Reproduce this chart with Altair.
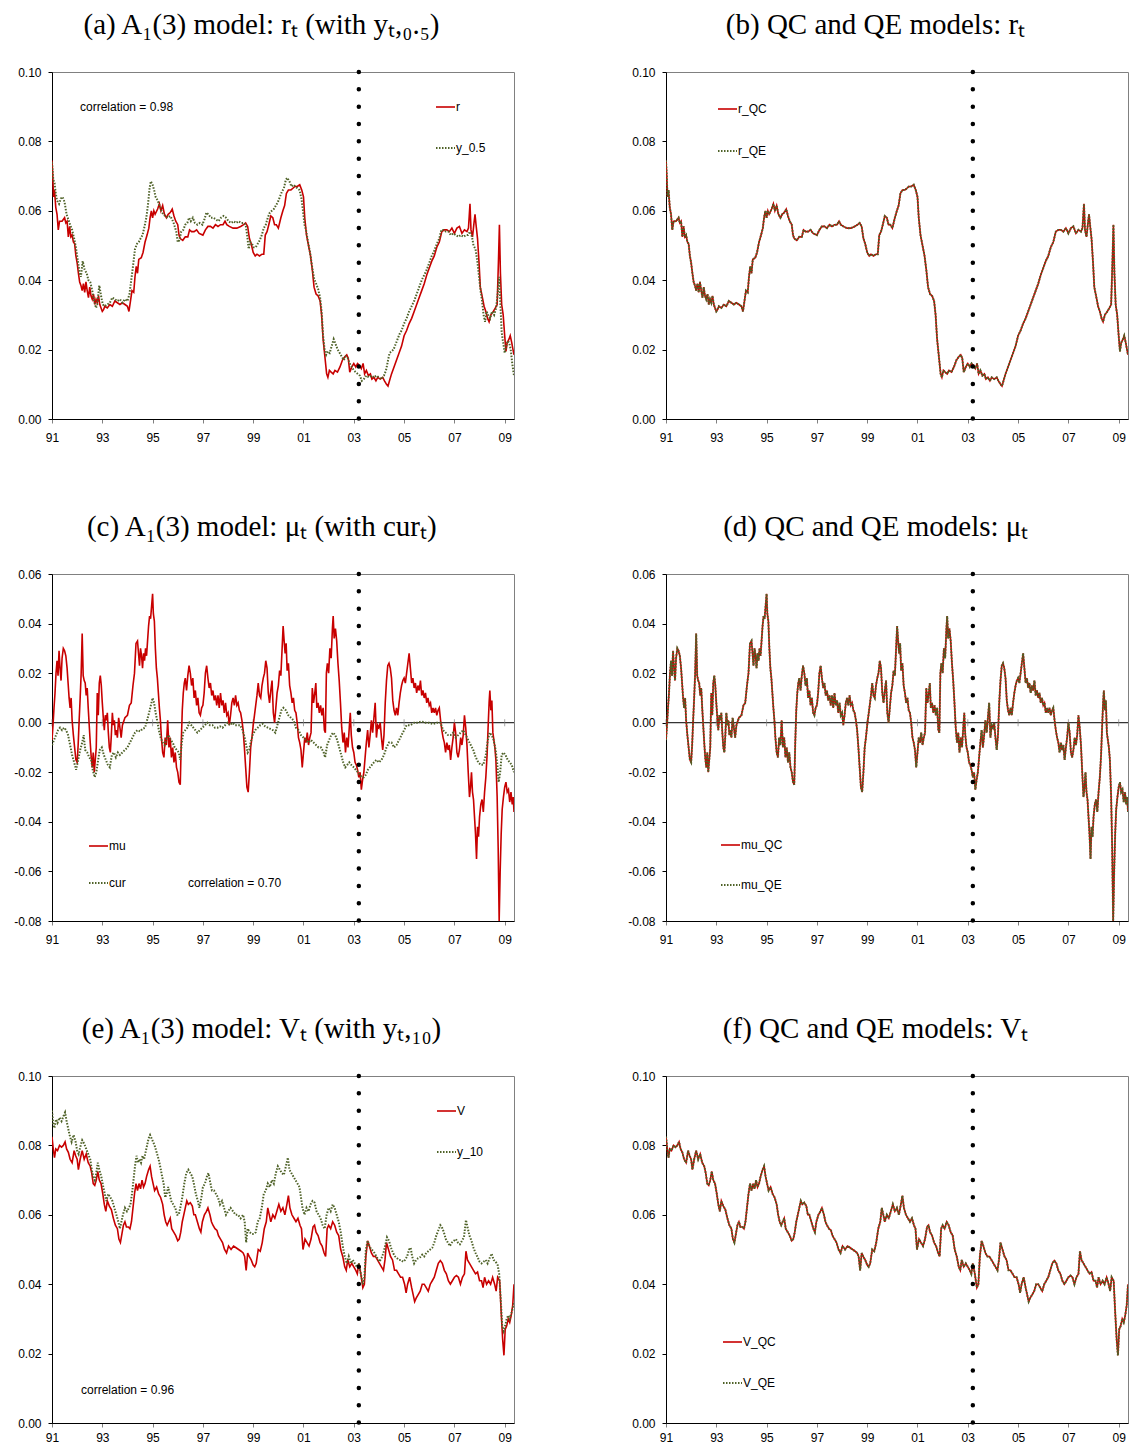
import altair as alt
import pandas as pd

# ---------------- data ----------------
LABEL_YEARS = [1991, 1993, 1995, 1997, 1999, 2001, 2003, 2005, 2007, 2009]
X_RANGE = [1991.0, 2009.37]
BREAK_YEAR = [2003.2]
RATE_TICKS = [0.0, 0.02, 0.04, 0.06, 0.08, 0.10]
MU_TICKS = [-0.08, -0.06, -0.04, -0.02, 0.0, 0.02, 0.04, 0.06]

R = [(1991.00,0.0745),(1991.03,0.0700),(1991.06,0.0640),(1991.10,0.0660),(1991.15,0.0610),(1991.20,0.0590),
     (1991.25,0.0545),(1991.30,0.0570),(1991.40,0.0570),(1991.50,0.0580),(1991.55,0.0565),(1991.60,0.0570),
     (1991.65,0.0525),(1991.70,0.0555),(1991.75,0.0525),(1991.80,0.0530),(1991.85,0.0510),(1991.90,0.0505),
     (1991.95,0.0470),(1992.00,0.0450),(1992.05,0.0420),(1992.10,0.0395),(1992.15,0.0385),(1992.20,0.0370),
     (1992.25,0.0390),(1992.30,0.0365),(1992.35,0.0395),(1992.40,0.0370),(1992.45,0.0350),(1992.50,0.0380),
     (1992.55,0.0355),(1992.60,0.0345),(1992.65,0.0360),(1992.70,0.0330),(1992.75,0.0345),(1992.80,0.0335),
     (1992.85,0.0355),(1992.90,0.0330),(1993.00,0.0310),(1993.05,0.0315),(1993.10,0.0325),(1993.20,0.0320),
     (1993.30,0.0330),(1993.40,0.0325),(1993.50,0.0340),(1993.60,0.0335),(1993.70,0.0330),(1993.80,0.0335),
     (1993.90,0.0330),(1994.00,0.0325),(1994.06,0.0310),(1994.12,0.0340),(1994.18,0.0370),(1994.25,0.0365),
     (1994.30,0.0410),(1994.35,0.0440),(1994.40,0.0420),(1994.45,0.0460),(1994.55,0.0465),(1994.62,0.0480),
     (1994.70,0.0510),(1994.78,0.0530),(1994.85,0.0550),(1994.90,0.0580),(1994.95,0.0600),(1995.00,0.0580),
     (1995.05,0.0600),(1995.10,0.0590),(1995.20,0.0605),(1995.27,0.0620),(1995.33,0.0600),(1995.40,0.0615),
     (1995.47,0.0590),(1995.55,0.0580),(1995.62,0.0590),(1995.70,0.0595),(1995.78,0.0605),(1995.85,0.0585),
     (1995.92,0.0570),(1996.00,0.0560),(1996.05,0.0530),(1996.10,0.0520),(1996.20,0.0515),(1996.30,0.0525),
     (1996.40,0.0525),(1996.47,0.0545),(1996.55,0.0540),(1996.65,0.0540),(1996.75,0.0545),(1996.85,0.0535),
     (1997.00,0.0530),(1997.10,0.0545),(1997.20,0.0555),(1997.30,0.0555),(1997.40,0.0550),(1997.50,0.0560),
     (1997.60,0.0555),(1997.70,0.0560),(1997.80,0.0560),(1997.88,0.0570),(1997.95,0.0560),(1998.05,0.0555),
     (1998.20,0.0550),(1998.35,0.0550),(1998.50,0.0555),(1998.62,0.0560),(1998.70,0.0565),(1998.78,0.0555),
     (1998.85,0.0520),(1998.92,0.0505),(1999.00,0.0480),(1999.08,0.0470),(1999.15,0.0475),(1999.25,0.0470),
     (1999.35,0.0475),(1999.42,0.0475),(1999.48,0.0530),(1999.55,0.0540),(1999.62,0.0560),(1999.70,0.0585),
     (1999.78,0.0580),(1999.85,0.0560),(1999.92,0.0560),(2000.00,0.0550),(2000.05,0.0565),(2000.10,0.0580),
     (2000.18,0.0600),(2000.25,0.0615),(2000.32,0.0650),(2000.40,0.0660),(2000.50,0.0660),(2000.58,0.0665),
     (2000.66,0.0670),(2000.75,0.0670),(2000.85,0.0675),(2000.93,0.0660),(2001.00,0.0640),(2001.05,0.0580),
     (2001.12,0.0530),(2001.20,0.0500),(2001.28,0.0470),(2001.35,0.0430),(2001.42,0.0380),(2001.50,0.0360),
     (2001.58,0.0355),(2001.66,0.0340),(2001.72,0.0300),(2001.78,0.0230),(2001.85,0.0180),(2001.92,0.0130),
     (2001.97,0.0120),(2002.03,0.0140),(2002.10,0.0135),(2002.18,0.0130),(2002.25,0.0140),(2002.35,0.0135),
     (2002.45,0.0150),(2002.55,0.0170),(2002.65,0.0180),(2002.72,0.0185),(2002.78,0.0175),(2002.84,0.0135),
     (2002.92,0.0150),(2003.00,0.0160),(2003.08,0.0150),(2003.15,0.0160),(2003.22,0.0155),(2003.30,0.0145),
     (2003.37,0.0160),(2003.43,0.0130),(2003.50,0.0140),(2003.58,0.0125),(2003.66,0.0130),(2003.72,0.0115),
     (2003.80,0.0120),(2003.88,0.0110),(2003.95,0.0120),(2004.05,0.0115),(2004.15,0.0120),(2004.22,0.0110),
     (2004.30,0.0100),(2004.36,0.0095),(2004.42,0.0110),(2004.50,0.0130),(2004.60,0.0150),(2004.70,0.0170),
     (2004.80,0.0190),(2004.90,0.0210),(2005.00,0.0240),(2005.10,0.0255),(2005.20,0.0275),(2005.30,0.0290),
     (2005.40,0.0310),(2005.50,0.0330),(2005.60,0.0350),(2005.70,0.0370),(2005.80,0.0390),(2005.90,0.0415),
     (2006.00,0.0435),(2006.10,0.0455),(2006.20,0.0470),(2006.30,0.0495),(2006.40,0.0510),(2006.50,0.0540),
     (2006.60,0.0545),(2006.70,0.0545),(2006.80,0.0540),(2006.90,0.0550),(2007.00,0.0535),(2007.10,0.0550),
     (2007.20,0.0555),(2007.30,0.0535),(2007.40,0.0545),(2007.50,0.0540),(2007.56,0.0550),(2007.62,0.0620),
     (2007.66,0.0545),(2007.72,0.0525),(2007.78,0.0565),(2007.82,0.0590),(2007.86,0.0560),(2007.92,0.0520),
     (2007.98,0.0450),(2008.03,0.0380),(2008.10,0.0355),(2008.18,0.0325),(2008.25,0.0310),(2008.32,0.0290),
     (2008.38,0.0280),(2008.45,0.0300),(2008.55,0.0310),(2008.63,0.0320),(2008.70,0.0330),(2008.75,0.0450),
     (2008.79,0.0560),(2008.83,0.0420),(2008.88,0.0330),(2008.94,0.0300),(2009.00,0.0240),(2009.05,0.0195),
     (2009.10,0.0220),(2009.17,0.0230),(2009.22,0.0240),(2009.28,0.0220),(2009.33,0.0200),(2009.37,0.0185)]

Y05 = [(1991.00,0.0740),(1991.05,0.0690),(1991.10,0.0680),(1991.15,0.0650),(1991.20,0.0630),(1991.28,0.0620),
       (1991.35,0.0635),(1991.42,0.0640),(1991.50,0.0625),(1991.58,0.0590),(1991.65,0.0575),(1991.72,0.0560),
       (1991.80,0.0545),(1991.88,0.0520),(1991.95,0.0495),(1992.02,0.0460),(1992.10,0.0420),(1992.15,0.0410),
       (1992.22,0.0455),(1992.30,0.0430),(1992.38,0.0420),(1992.45,0.0400),(1992.52,0.0395),(1992.60,0.0370),
       (1992.68,0.0340),(1992.75,0.0320),(1992.80,0.0330),(1992.88,0.0385),(1992.95,0.0355),(1993.02,0.0330),
       (1993.10,0.0325),(1993.20,0.0330),(1993.30,0.0335),(1993.40,0.0350),(1993.50,0.0345),(1993.60,0.0340),
       (1993.70,0.0345),(1993.80,0.0335),(1993.90,0.0345),(1994.00,0.0340),(1994.08,0.0360),(1994.15,0.0400),
       (1994.22,0.0440),(1994.30,0.0490),(1994.38,0.0505),(1994.45,0.0510),(1994.52,0.0520),(1994.60,0.0530),
       (1994.68,0.0555),(1994.75,0.0580),(1994.82,0.0620),(1994.88,0.0665),(1994.93,0.0685),(1995.00,0.0675),
       (1995.06,0.0660),(1995.12,0.0640),(1995.20,0.0630),(1995.28,0.0615),(1995.35,0.0600),(1995.42,0.0590),
       (1995.50,0.0585),(1995.60,0.0580),(1995.70,0.0585),(1995.78,0.0575),(1995.86,0.0560),(1995.94,0.0540),
       (1996.00,0.0510),(1996.06,0.0515),(1996.14,0.0540),(1996.22,0.0545),(1996.30,0.0560),(1996.38,0.0565),
       (1996.45,0.0580),(1996.52,0.0570),(1996.60,0.0580),(1996.68,0.0565),(1996.78,0.0560),(1996.88,0.0565),
       (1996.98,0.0560),(1997.06,0.0575),(1997.14,0.0595),(1997.22,0.0590),(1997.32,0.0580),(1997.42,0.0580),
       (1997.52,0.0575),(1997.62,0.0570),(1997.72,0.0580),(1997.82,0.0585),(1997.92,0.0580),(1998.02,0.0570),
       (1998.12,0.0565),(1998.22,0.0570),(1998.32,0.0565),(1998.42,0.0570),(1998.52,0.0565),(1998.62,0.0565),
       (1998.70,0.0560),(1998.76,0.0530),(1998.82,0.0490),(1998.88,0.0510),(1998.95,0.0505),(1999.02,0.0495),
       (1999.10,0.0495),(1999.18,0.0505),(1999.26,0.0515),(1999.34,0.0530),(1999.42,0.0550),(1999.50,0.0560),
       (1999.58,0.0580),(1999.66,0.0595),(1999.74,0.0600),(1999.82,0.0605),(1999.90,0.0615),(1999.98,0.0625),
       (2000.06,0.0640),(2000.14,0.0655),(2000.22,0.0665),(2000.30,0.0690),(2000.36,0.0695),(2000.44,0.0685),
       (2000.52,0.0670),(2000.60,0.0675),(2000.68,0.0670),(2000.76,0.0665),(2000.84,0.0660),(2000.92,0.0635),
       (2000.98,0.0600),(2001.04,0.0560),(2001.10,0.0545),(2001.18,0.0510),(2001.26,0.0480),(2001.34,0.0440),
       (2001.42,0.0405),(2001.50,0.0390),(2001.58,0.0375),(2001.66,0.0350),(2001.72,0.0310),(2001.78,0.0240),
       (2001.84,0.0200),(2001.90,0.0185),(2001.96,0.0195),(2002.04,0.0190),(2002.12,0.0210),(2002.20,0.0230),
       (2002.28,0.0215),(2002.36,0.0200),(2002.44,0.0190),(2002.52,0.0180),(2002.60,0.0170),(2002.68,0.0180),
       (2002.76,0.0175),(2002.84,0.0160),(2002.92,0.0150),(2003.00,0.0140),(2003.08,0.0135),(2003.16,0.0130),
       (2003.24,0.0125),(2003.32,0.0110),(2003.40,0.0115),(2003.50,0.0125),(2003.60,0.0120),(2003.70,0.0125),
       (2003.80,0.0120),(2003.90,0.0125),(2004.00,0.0120),(2004.10,0.0115),(2004.20,0.0125),(2004.28,0.0140),
       (2004.35,0.0165),(2004.42,0.0190),(2004.50,0.0195),(2004.58,0.0200),(2004.66,0.0215),(2004.74,0.0230),
       (2004.82,0.0245),(2004.90,0.0255),(2005.00,0.0275),(2005.10,0.0290),(2005.20,0.0310),(2005.30,0.0325),
       (2005.40,0.0340),(2005.50,0.0360),(2005.60,0.0380),(2005.70,0.0400),(2005.80,0.0415),(2005.90,0.0430),
       (2006.00,0.0450),(2006.10,0.0470),(2006.20,0.0485),(2006.30,0.0505),(2006.40,0.0520),(2006.48,0.0545),
       (2006.56,0.0545),(2006.66,0.0540),(2006.76,0.0540),(2006.86,0.0530),(2006.96,0.0535),(2007.06,0.0530),
       (2007.16,0.0525),(2007.26,0.0530),(2007.36,0.0525),(2007.46,0.0530),(2007.54,0.0530),(2007.62,0.0540),
       (2007.70,0.0525),(2007.76,0.0500),(2007.84,0.0490),(2007.92,0.0450),(2007.98,0.0410),(2008.04,0.0370),
       (2008.10,0.0340),(2008.16,0.0300),(2008.22,0.0280),(2008.28,0.0310),(2008.34,0.0300),(2008.42,0.0290),
       (2008.50,0.0310),(2008.58,0.0300),(2008.66,0.0320),(2008.72,0.0360),(2008.78,0.0410),(2008.83,0.0330),
       (2008.88,0.0250),(2008.94,0.0220),(2009.00,0.0190),(2009.06,0.0210),(2009.12,0.0225),(2009.18,0.0220),
       (2009.24,0.0200),(2009.30,0.0160),(2009.37,0.0125)]

MU = [(1991.00,-0.0070),(1991.04,-0.0010),(1991.08,0.0060),(1991.12,0.0120),(1991.16,0.0200),(1991.20,0.0250),
      (1991.24,0.0190),(1991.28,0.0290),(1991.32,0.0220),(1991.36,0.0170),(1991.40,0.0260),(1991.45,0.0300),
      (1991.50,0.0290),(1991.55,0.0270),(1991.60,0.0220),(1991.64,0.0160),(1991.68,0.0100),(1991.72,0.0060),
      (1991.76,0.0100),(1991.80,0.0010),(1991.85,-0.0050),(1991.90,-0.0100),(1991.95,-0.0150),(1992.00,-0.0160),
      (1992.04,-0.0090),(1992.08,0.0010),(1992.12,0.0100),(1992.16,0.0200),(1992.20,0.0360),(1992.24,0.0190),
      (1992.28,0.0170),(1992.32,0.0160),(1992.36,0.0110),(1992.40,0.0140),(1992.44,0.0060),(1992.48,-0.0010),
      (1992.52,-0.0080),(1992.56,-0.0140),(1992.60,-0.0180),(1992.64,-0.0120),(1992.68,-0.0200),(1992.72,-0.0150),
      (1992.76,-0.0100),(1992.80,0.0120),(1992.84,0.0030),(1992.88,0.0160),(1992.92,0.0190),(1992.96,0.0150),
      (1993.00,0.0080),(1993.04,0.0020),(1993.08,-0.0030),(1993.12,0.0030),(1993.16,0.0010),(1993.20,0.0040),
      (1993.24,-0.0040),(1993.28,-0.0100),(1993.32,-0.0120),(1993.36,-0.0050),(1993.40,0.0040),(1993.44,-0.0010),
      (1993.48,0.0010),(1993.52,-0.0050),(1993.56,-0.0030),(1993.60,-0.0060),(1993.65,0.0020),(1993.70,-0.0020),
      (1993.75,-0.0060),(1993.80,-0.0010),(1993.90,0.0020),(1994.00,0.0030),(1994.08,0.0070),(1994.15,0.0080),
      (1994.22,0.0150),(1994.28,0.0200),(1994.34,0.0320),(1994.40,0.0330),(1994.44,0.0280),(1994.48,0.0230),
      (1994.52,0.0300),(1994.56,0.0270),(1994.60,0.0220),(1994.64,0.0280),(1994.68,0.0250),(1994.72,0.0300),
      (1994.76,0.0270),(1994.80,0.0330),(1994.84,0.0390),(1994.88,0.0430),(1994.92,0.0420),(1994.96,0.0470),
      (1995.00,0.0520),(1995.03,0.0440),(1995.07,0.0410),(1995.11,0.0300),(1995.15,0.0220),(1995.19,0.0180),
      (1995.23,0.0120),(1995.27,0.0060),(1995.31,0.0010),(1995.35,-0.0060),(1995.40,-0.0120),(1995.45,-0.0140),
      (1995.50,-0.0060),(1995.55,-0.0090),(1995.60,0.0010),(1995.65,-0.0100),(1995.70,-0.0060),(1995.75,-0.0140),
      (1995.80,-0.0100),(1995.85,-0.0160),(1995.90,-0.0120),(1995.95,-0.0180),(1996.00,-0.0200),(1996.05,-0.0240),
      (1996.10,-0.0250),(1996.14,-0.0080),(1996.18,0.0050),(1996.22,0.0120),(1996.26,0.0160),(1996.30,0.0180),
      (1996.35,0.0130),(1996.40,0.0190),(1996.45,0.0230),(1996.50,0.0200),(1996.55,0.0150),(1996.60,0.0180),
      (1996.65,0.0100),(1996.70,0.0130),(1996.75,0.0070),(1996.80,0.0100),(1996.85,0.0040),(1996.90,0.0030),
      (1996.95,0.0060),(1997.00,0.0070),(1997.05,0.0120),(1997.10,0.0200),(1997.15,0.0230),(1997.20,0.0180),
      (1997.25,0.0140),(1997.30,0.0160),(1997.35,0.0110),(1997.40,0.0130),(1997.45,0.0090),(1997.50,0.0110),
      (1997.55,0.0070),(1997.60,0.0110),(1997.65,0.0060),(1997.70,0.0120),(1997.75,0.0070),(1997.80,0.0090),
      (1997.85,0.0040),(1997.90,0.0080),(1997.95,0.0030),(1998.00,0.0040),(1998.05,-0.0010),(1998.10,0.0030),
      (1998.15,0.0080),(1998.20,0.0100),(1998.25,0.0070),(1998.30,0.0110),(1998.35,0.0070),(1998.40,0.0080),
      (1998.45,0.0050),(1998.50,0.0040),(1998.55,0.0010),(1998.60,-0.0030),(1998.65,-0.0100),(1998.70,-0.0180),
      (1998.75,-0.0260),(1998.80,-0.0280),(1998.85,-0.0200),(1998.90,-0.0100),(1998.95,-0.0060),(1999.00,-0.0010),
      (1999.05,0.0030),(1999.10,0.0070),(1999.15,0.0110),(1999.20,0.0160),(1999.25,0.0110),(1999.30,0.0100),
      (1999.35,0.0150),(1999.40,0.0180),(1999.45,0.0200),(1999.50,0.0250),(1999.55,0.0220),(1999.60,0.0120),
      (1999.65,0.0080),(1999.70,0.0130),(1999.75,0.0170),(1999.80,0.0040),(1999.85,0.0000),(1999.90,0.0060),
      (1999.95,0.0120),(2000.00,0.0150),(2000.05,0.0210),(2000.10,0.0190),(2000.15,0.0300),(2000.19,0.0390),
      (2000.23,0.0330),(2000.27,0.0280),(2000.31,0.0320),(2000.35,0.0210),(2000.40,0.0240),(2000.45,0.0150),
      (2000.50,0.0120),(2000.55,0.0080),(2000.60,0.0100),(2000.65,0.0050),(2000.70,0.0040),(2000.75,0.0000),
      (2000.80,-0.0060),(2000.85,-0.0080),(2000.90,-0.0110),(2000.95,-0.0180),(2001.00,-0.0120),(2001.05,-0.0060),
      (2001.10,-0.0080),(2001.15,-0.0040),(2001.20,-0.0090),(2001.25,-0.0060),(2001.30,-0.0040),(2001.35,0.0140),
      (2001.40,0.0080),(2001.45,0.0120),(2001.49,0.0160),(2001.53,0.0060),(2001.58,0.0080),(2001.63,0.0040),
      (2001.68,0.0070),(2001.73,0.0030),(2001.78,0.0060),(2001.83,-0.0030),(2001.87,-0.0040),(2001.91,0.0200),
      (2001.95,0.0240),(2002.00,0.0200),(2002.05,0.0300),(2002.10,0.0260),(2002.15,0.0380),(2002.18,0.0430),
      (2002.22,0.0340),(2002.27,0.0380),(2002.32,0.0330),(2002.37,0.0240),(2002.42,0.0170),(2002.47,0.0080),
      (2002.52,-0.0020),(2002.57,-0.0080),(2002.62,-0.0040),(2002.67,-0.0120),(2002.72,-0.0060),(2002.77,-0.0100),
      (2002.82,-0.0020),(2002.86,0.0040),(2002.90,-0.0050),(2002.95,-0.0100),(2003.00,-0.0120),(2003.05,-0.0160),
      (2003.10,-0.0170),(2003.15,-0.0190),(2003.20,-0.0220),(2003.25,-0.0200),(2003.30,-0.0270),(2003.35,-0.0230),
      (2003.40,-0.0200),(2003.45,-0.0140),(2003.50,-0.0080),(2003.55,-0.0030),(2003.60,-0.0100),(2003.65,-0.0050),
      (2003.70,0.0010),(2003.75,-0.0040),(2003.80,0.0020),(2003.85,0.0080),(2003.90,-0.0060),(2003.95,-0.0010),
      (2004.00,-0.0020),(2004.05,0.0000),(2004.10,-0.0060),(2004.15,-0.0110),(2004.20,-0.0050),(2004.25,0.0080),
      (2004.30,0.0170),(2004.35,0.0230),(2004.40,0.0240),(2004.45,0.0220),(2004.50,0.0180),(2004.55,0.0090),
      (2004.60,0.0050),(2004.65,0.0030),(2004.70,0.0060),(2004.75,0.0030),(2004.80,0.0080),(2004.85,0.0120),
      (2004.90,0.0150),(2004.95,0.0170),(2005.00,0.0180),(2005.05,0.0160),(2005.10,0.0200),(2005.15,0.0240),
      (2005.20,0.0280),(2005.25,0.0220),(2005.30,0.0160),(2005.35,0.0180),(2005.40,0.0140),(2005.45,0.0160),
      (2005.50,0.0120),(2005.55,0.0150),(2005.60,0.0130),(2005.65,0.0170),(2005.70,0.0110),(2005.75,0.0130),
      (2005.80,0.0100),(2005.85,0.0120),(2005.90,0.0080),(2005.95,0.0100),(2006.00,0.0070),(2006.05,0.0080),
      (2006.10,0.0040),(2006.15,0.0060),(2006.20,0.0040),(2006.25,0.0060),(2006.30,0.0030),(2006.35,0.0050),
      (2006.40,0.0060),(2006.45,0.0010),(2006.50,-0.0030),(2006.55,-0.0060),(2006.60,-0.0080),(2006.65,-0.0120),
      (2006.70,-0.0080),(2006.75,-0.0110),(2006.80,-0.0090),(2006.85,-0.0150),(2006.90,-0.0100),(2006.95,-0.0060),
      (2007.00,0.0000),(2007.05,-0.0040),(2007.10,-0.0120),(2007.15,-0.0140),(2007.20,-0.0110),(2007.25,-0.0060),
      (2007.30,-0.0090),(2007.35,-0.0050),(2007.40,0.0030),(2007.45,-0.0020),(2007.50,-0.0090),(2007.55,-0.0200),
      (2007.60,-0.0300),(2007.64,-0.0260),(2007.68,-0.0200),(2007.72,-0.0280),(2007.76,-0.0310),(2007.80,-0.0380),
      (2007.84,-0.0450),(2007.88,-0.0550),(2007.92,-0.0420),(2007.96,-0.0460),(2008.00,-0.0380),(2008.05,-0.0330),
      (2008.10,-0.0310),(2008.15,-0.0360),(2008.20,-0.0280),(2008.25,-0.0220),(2008.30,-0.0130),(2008.34,-0.0020),
      (2008.38,0.0080),(2008.41,0.0130),(2008.45,0.0050),(2008.49,0.0090),(2008.53,-0.0040),(2008.57,-0.0070),
      (2008.61,-0.0100),(2008.65,-0.0150),(2008.70,-0.0300),(2008.74,-0.0500),(2008.78,-0.0800),(2008.82,-0.0600),
      (2008.86,-0.0450),(2008.90,-0.0350),(2008.95,-0.0300),(2009.00,-0.0260),(2009.05,-0.0240),(2009.10,-0.0280),
      (2009.15,-0.0270),(2009.20,-0.0320),(2009.25,-0.0280),(2009.30,-0.0330),(2009.34,-0.0300),(2009.37,-0.0360)]

CUR = [(1991.00,-0.0090),(1991.08,-0.0070),(1991.16,-0.0050),(1991.24,-0.0030),(1991.32,-0.0020),(1991.40,-0.0030),
       (1991.48,-0.0020),(1991.56,-0.0030),(1991.64,-0.0050),(1991.72,-0.0090),(1991.80,-0.0130),(1991.88,-0.0160),
       (1991.96,-0.0190),(1992.04,-0.0150),(1992.12,-0.0110),(1992.20,-0.0080),(1992.26,-0.0050),(1992.32,-0.0110),
       (1992.40,-0.0120),(1992.48,-0.0140),(1992.56,-0.0150),(1992.62,-0.0190),(1992.70,-0.0220),(1992.76,-0.0200),
       (1992.82,-0.0160),(1992.90,-0.0110),(1992.98,-0.0100),(1993.06,-0.0130),(1993.14,-0.0150),(1993.22,-0.0170),
       (1993.30,-0.0180),(1993.38,-0.0130),(1993.46,-0.0120),(1993.54,-0.0140),(1993.62,-0.0120),(1993.70,-0.0130),
       (1993.80,-0.0120),(1993.90,-0.0110),(1994.00,-0.0100),(1994.10,-0.0080),(1994.20,-0.0060),(1994.30,-0.0040),
       (1994.40,-0.0030),(1994.50,-0.0035),(1994.60,-0.0025),(1994.70,-0.0020),(1994.78,0.0010),(1994.86,0.0040),
       (1994.93,0.0070),(1995.00,0.0100),(1995.06,0.0080),(1995.12,0.0040),(1995.18,0.0010),(1995.25,-0.0030),
       (1995.32,-0.0060),(1995.40,-0.0080),(1995.48,-0.0090),(1995.56,-0.0060),(1995.64,-0.0050),(1995.72,-0.0070),
       (1995.80,-0.0080),(1995.88,-0.0100),(1995.96,-0.0110),(1996.04,-0.0120),(1996.10,-0.0150),(1996.16,-0.0080),
       (1996.22,-0.0040),(1996.30,-0.0030),(1996.38,-0.0020),(1996.46,0.0000),(1996.54,-0.0010),(1996.62,-0.0020),
       (1996.70,-0.0030),(1996.78,-0.0040),(1996.88,-0.0030),(1996.98,-0.0020),(1997.08,-0.0010),(1997.18,0.0000),
       (1997.28,-0.0010),(1997.38,-0.0010),(1997.48,-0.0020),(1997.58,-0.0020),(1997.68,-0.0015),(1997.78,-0.0020),
       (1997.88,-0.0010),(1997.98,0.0000),(1998.08,-0.0010),(1998.18,0.0000),(1998.28,-0.0010),(1998.38,-0.0010),
       (1998.48,-0.0010),(1998.58,-0.0030),(1998.66,-0.0060),(1998.72,-0.0090),(1998.78,-0.0120),(1998.84,-0.0110),
       (1998.90,-0.0080),(1998.98,-0.0050),(1999.08,-0.0030),(1999.18,-0.0020),(1999.28,-0.0010),(1999.38,-0.0005),
       (1999.48,-0.0015),(1999.58,-0.0020),(1999.68,-0.0025),(1999.78,-0.0030),(1999.88,-0.0040),(1999.96,-0.0010),
       (2000.04,0.0020),(2000.12,0.0050),(2000.20,0.0060),(2000.30,0.0050),(2000.40,0.0030),(2000.50,0.0020),
       (2000.60,0.0010),(2000.70,-0.0020),(2000.80,-0.0030),(2000.90,-0.0050),(2001.00,-0.0060),(2001.10,-0.0070),
       (2001.20,-0.0080),(2001.30,-0.0070),(2001.40,-0.0080),(2001.50,-0.0090),(2001.60,-0.0100),(2001.70,-0.0100),
       (2001.80,-0.0120),(2001.86,-0.0140),(2001.94,-0.0090),(2002.02,-0.0070),(2002.10,-0.0050),(2002.18,-0.0040),
       (2002.26,-0.0050),(2002.34,-0.0070),(2002.42,-0.0100),(2002.50,-0.0130),(2002.58,-0.0160),(2002.66,-0.0180),
       (2002.74,-0.0170),(2002.82,-0.0160),(2002.90,-0.0170),(2003.00,-0.0180),(2003.08,-0.0190),(2003.16,-0.0200),
       (2003.24,-0.0210),(2003.32,-0.0220),(2003.40,-0.0220),(2003.48,-0.0210),(2003.56,-0.0190),(2003.64,-0.0180),
       (2003.72,-0.0170),(2003.80,-0.0160),(2003.90,-0.0150),(2004.00,-0.0160),(2004.10,-0.0150),(2004.20,-0.0130),
       (2004.30,-0.0100),(2004.40,-0.0080),(2004.50,-0.0080),(2004.60,-0.0100),(2004.70,-0.0090),(2004.80,-0.0070),
       (2004.90,-0.0050),(2005.00,-0.0030),(2005.10,-0.0010),(2005.25,-0.0010),(2005.40,0.0000),(2005.55,0.0000),
       (2005.70,0.0005),(2005.85,0.0000),(2006.00,0.0000),(2006.15,-0.0005),(2006.30,0.0000),(2006.45,0.0000),
       (2006.55,-0.0030),(2006.65,-0.0040),(2006.75,-0.0050),(2006.85,-0.0050),(2006.95,-0.0040),(2007.05,-0.0060),
       (2007.15,-0.0050),(2007.25,-0.0040),(2007.35,-0.0030),(2007.45,-0.0050),(2007.55,-0.0070),(2007.65,-0.0090),
       (2007.75,-0.0110),(2007.85,-0.0140),(2007.95,-0.0160),(2008.05,-0.0170),(2008.15,-0.0170),(2008.25,-0.0130),
       (2008.33,-0.0070),(2008.40,-0.0040),(2008.48,-0.0050),(2008.56,-0.0070),(2008.64,-0.0110),(2008.70,-0.0160),
       (2008.76,-0.0240),(2008.82,-0.0200),(2008.88,-0.0130),(2008.95,-0.0120),(2009.03,-0.0130),(2009.12,-0.0150),
       (2009.20,-0.0160),(2009.28,-0.0170),(2009.37,-0.0200)]

V = [(1991.00,0.0825),(1991.05,0.0790),(1991.10,0.0765),(1991.15,0.0790),(1991.22,0.0785),(1991.30,0.0800),
     (1991.38,0.0795),(1991.45,0.0800),(1991.52,0.0810),(1991.58,0.0790),(1991.65,0.0780),(1991.72,0.0760),
     (1991.80,0.0750),(1991.88,0.0785),(1991.94,0.0770),(1992.00,0.0760),(1992.05,0.0730),(1992.12,0.0760),
     (1992.20,0.0785),(1992.28,0.0760),(1992.36,0.0775),(1992.44,0.0750),(1992.52,0.0740),(1992.58,0.0720),
     (1992.64,0.0690),(1992.70,0.0685),(1992.76,0.0700),(1992.82,0.0725),(1992.88,0.0700),(1992.95,0.0690),
     (1993.02,0.0660),(1993.08,0.0630),(1993.14,0.0610),(1993.20,0.0640),(1993.28,0.0625),(1993.36,0.0615),
     (1993.44,0.0590),(1993.52,0.0570),(1993.60,0.0560),(1993.66,0.0530),(1993.72,0.0520),(1993.78,0.0545),
     (1993.84,0.0570),(1993.90,0.0580),(1993.96,0.0565),(1994.04,0.0565),(1994.10,0.0560),(1994.16,0.0580),
     (1994.22,0.0620),(1994.28,0.0660),(1994.34,0.0690),(1994.40,0.0670),(1994.46,0.0690),(1994.52,0.0675),
     (1994.58,0.0700),(1994.64,0.0680),(1994.70,0.0690),(1994.76,0.0710),(1994.84,0.0730),(1994.90,0.0740),
     (1994.96,0.0710),(1995.02,0.0690),(1995.08,0.0670),(1995.16,0.0680),(1995.24,0.0660),(1995.32,0.0650),
     (1995.40,0.0630),(1995.46,0.0600),(1995.52,0.0580),(1995.58,0.0570),(1995.64,0.0580),(1995.70,0.0590),
     (1995.76,0.0560),(1995.84,0.0550),(1995.92,0.0540),(1996.00,0.0525),(1996.06,0.0530),(1996.12,0.0550),
     (1996.18,0.0580),(1996.24,0.0600),(1996.30,0.0620),(1996.36,0.0640),(1996.42,0.0630),(1996.50,0.0635),
     (1996.58,0.0625),(1996.64,0.0600),(1996.70,0.0600),(1996.78,0.0580),(1996.86,0.0560),(1996.92,0.0550),
     (1996.98,0.0580),(1997.06,0.0600),(1997.14,0.0610),(1997.20,0.0620),(1997.28,0.0600),(1997.34,0.0580),
     (1997.40,0.0570),(1997.48,0.0560),(1997.56,0.0555),(1997.62,0.0540),(1997.70,0.0530),(1997.78,0.0520),
     (1997.86,0.0500),(1997.94,0.0490),(1998.02,0.0510),(1998.12,0.0500),(1998.22,0.0510),(1998.32,0.0505),
     (1998.42,0.0500),(1998.52,0.0495),(1998.60,0.0490),(1998.66,0.0480),(1998.72,0.0440),(1998.78,0.0490),
     (1998.84,0.0480),(1998.92,0.0470),(1999.00,0.0455),(1999.06,0.0450),(1999.12,0.0460),(1999.20,0.0500),
     (1999.28,0.0495),(1999.36,0.0520),(1999.44,0.0560),(1999.52,0.0580),(1999.58,0.0620),(1999.64,0.0600),
     (1999.70,0.0580),(1999.78,0.0600),(1999.86,0.0590),(1999.94,0.0610),(2000.02,0.0630),(2000.10,0.0610),
     (2000.18,0.0620),(2000.26,0.0600),(2000.34,0.0630),(2000.40,0.0655),(2000.46,0.0620),(2000.54,0.0600),
     (2000.62,0.0590),(2000.70,0.0580),(2000.78,0.0590),(2000.86,0.0570),(2000.92,0.0560),(2000.98,0.0500),
     (2001.06,0.0530),(2001.14,0.0520),(2001.22,0.0510),(2001.30,0.0530),(2001.38,0.0565),(2001.44,0.0570),
     (2001.50,0.0550),(2001.58,0.0540),(2001.66,0.0520),(2001.74,0.0510),(2001.82,0.0490),(2001.88,0.0480),
     (2001.94,0.0560),(2002.00,0.0570),(2002.08,0.0560),(2002.16,0.0580),(2002.24,0.0570),(2002.32,0.0550),
     (2002.40,0.0540),(2002.48,0.0500),(2002.56,0.0480),(2002.64,0.0450),(2002.70,0.0440),(2002.76,0.0470),
     (2002.84,0.0450),(2002.92,0.0460),(2003.00,0.0450),(2003.08,0.0440),(2003.14,0.0430),(2003.20,0.0460),
     (2003.28,0.0430),(2003.36,0.0390),(2003.42,0.0400),(2003.48,0.0480),(2003.55,0.0525),(2003.62,0.0510),
     (2003.70,0.0490),(2003.78,0.0480),(2003.86,0.0480),(2003.94,0.0470),(2004.02,0.0460),(2004.10,0.0450),
     (2004.18,0.0440),(2004.24,0.0470),(2004.30,0.0520),(2004.38,0.0500),(2004.46,0.0480),(2004.54,0.0470),
     (2004.62,0.0440),(2004.70,0.0440),(2004.78,0.0430),(2004.86,0.0420),(2004.94,0.0420),(2005.02,0.0400),
     (2005.08,0.0375),(2005.14,0.0400),(2005.22,0.0420),(2005.30,0.0390),(2005.36,0.0370),(2005.42,0.0350),
     (2005.48,0.0360),(2005.56,0.0370),(2005.64,0.0380),(2005.72,0.0400),(2005.80,0.0400),(2005.88,0.0390),
     (2005.96,0.0380),(2006.04,0.0400),(2006.12,0.0410),(2006.20,0.0420),(2006.28,0.0440),(2006.36,0.0460),
     (2006.44,0.0468),(2006.52,0.0460),(2006.60,0.0440),(2006.68,0.0430),(2006.76,0.0410),(2006.84,0.0400),
     (2006.92,0.0410),(2007.00,0.0420),(2007.08,0.0425),(2007.16,0.0420),(2007.24,0.0400),(2007.32,0.0420),
     (2007.40,0.0430),(2007.46,0.0495),(2007.52,0.0470),(2007.60,0.0460),(2007.68,0.0450),(2007.76,0.0440),
     (2007.84,0.0430),(2007.92,0.0435),(2008.00,0.0410),(2008.08,0.0410),(2008.14,0.0390),(2008.20,0.0420),
     (2008.28,0.0400),(2008.36,0.0410),(2008.44,0.0400),(2008.52,0.0420),(2008.60,0.0400),(2008.66,0.0380),
     (2008.72,0.0420),(2008.80,0.0410),(2008.86,0.0320),(2008.92,0.0240),(2008.97,0.0195),(2009.02,0.0270),
     (2009.08,0.0280),(2009.14,0.0300),(2009.20,0.0290),(2009.26,0.0310),(2009.32,0.0340),(2009.37,0.0400)]

Y10 = [(1991.00,0.0900),(1991.05,0.0860),(1991.10,0.0850),(1991.16,0.0875),(1991.22,0.0865),(1991.30,0.0880),
       (1991.38,0.0870),(1991.46,0.0885),(1991.52,0.0895),(1991.58,0.0870),(1991.64,0.0850),(1991.70,0.0830),
       (1991.78,0.0810),(1991.86,0.0830),(1991.94,0.0810),(1992.00,0.0785),(1992.06,0.0775),(1992.14,0.0800),
       (1992.20,0.0815),(1992.28,0.0805),(1992.36,0.0790),(1992.44,0.0775),(1992.52,0.0760),(1992.58,0.0730),
       (1992.64,0.0710),(1992.70,0.0700),(1992.76,0.0720),(1992.82,0.0750),(1992.88,0.0730),(1992.96,0.0710),
       (1993.04,0.0680),(1993.10,0.0660),(1993.16,0.0640),(1993.24,0.0660),(1993.32,0.0650),(1993.40,0.0640),
       (1993.48,0.0620),(1993.56,0.0600),(1993.64,0.0580),(1993.70,0.0560),(1993.76,0.0580),(1993.82,0.0600),
       (1993.90,0.0620),(1993.98,0.0610),(1994.06,0.0620),(1994.12,0.0630),(1994.18,0.0660),(1994.24,0.0700),
       (1994.30,0.0740),(1994.36,0.0770),(1994.42,0.0750),(1994.48,0.0760),(1994.54,0.0750),(1994.60,0.0770),
       (1994.66,0.0760),(1994.72,0.0780),(1994.78,0.0800),(1994.84,0.0820),(1994.90,0.0830),(1994.96,0.0820),
       (1995.02,0.0810),(1995.08,0.0800),(1995.16,0.0780),(1995.24,0.0760),(1995.30,0.0740),(1995.38,0.0710),
       (1995.44,0.0690),(1995.50,0.0650),(1995.56,0.0660),(1995.62,0.0680),(1995.68,0.0660),(1995.74,0.0640),
       (1995.82,0.0630),(1995.90,0.0620),(1995.98,0.0600),(1996.04,0.0600),(1996.10,0.0620),(1996.18,0.0650),
       (1996.26,0.0690),(1996.34,0.0720),(1996.42,0.0730),(1996.50,0.0720),(1996.58,0.0710),(1996.64,0.0690),
       (1996.72,0.0660),(1996.80,0.0640),(1996.86,0.0620),(1996.94,0.0650),(1997.00,0.0680),(1997.08,0.0690),
       (1997.16,0.0710),(1997.22,0.0720),(1997.30,0.0690),(1997.36,0.0670),(1997.44,0.0670),(1997.52,0.0660),
       (1997.60,0.0650),(1997.68,0.0630),(1997.76,0.0640),(1997.84,0.0620),(1997.92,0.0600),(1998.00,0.0610),
       (1998.10,0.0620),(1998.20,0.0610),(1998.30,0.0600),(1998.40,0.0600),(1998.50,0.0590),(1998.60,0.0600),
       (1998.66,0.0580),(1998.72,0.0520),(1998.78,0.0560),(1998.86,0.0550),(1998.94,0.0545),(1999.02,0.0545),
       (1999.10,0.0550),(1999.18,0.0580),(1999.26,0.0590),(1999.34,0.0620),(1999.42,0.0660),(1999.50,0.0670),
       (1999.58,0.0690),(1999.66,0.0680),(1999.74,0.0700),(1999.82,0.0690),(1999.90,0.0720),(1999.98,0.0740),
       (2000.06,0.0730),(2000.14,0.0720),(2000.22,0.0715),(2000.30,0.0740),(2000.38,0.0765),(2000.44,0.0730),
       (2000.52,0.0720),(2000.60,0.0710),(2000.68,0.0700),(2000.76,0.0690),(2000.84,0.0680),(2000.90,0.0650),
       (2000.96,0.0620),(2001.04,0.0600),(2001.12,0.0620),(2001.20,0.0610),(2001.28,0.0630),(2001.36,0.0640),
       (2001.44,0.0635),(2001.52,0.0610),(2001.60,0.0600),(2001.68,0.0590),(2001.76,0.0570),(2001.84,0.0560),
       (2001.92,0.0600),(2002.00,0.0620),(2002.08,0.0610),(2002.16,0.0630),(2002.24,0.0620),(2002.32,0.0600),
       (2002.40,0.0580),(2002.48,0.0550),(2002.56,0.0510),(2002.64,0.0480),(2002.72,0.0460),(2002.80,0.0480),
       (2002.88,0.0460),(2002.96,0.0470),(2003.04,0.0460),(2003.12,0.0450),(2003.20,0.0460),(2003.28,0.0430),
       (2003.36,0.0400),(2003.42,0.0420),(2003.48,0.0500),(2003.55,0.0525),(2003.62,0.0510),(2003.70,0.0500),
       (2003.78,0.0495),(2003.86,0.0485),(2003.94,0.0475),(2004.02,0.0465),(2004.10,0.0475),(2004.18,0.0490),
       (2004.26,0.0515),(2004.32,0.0535),(2004.40,0.0525),(2004.48,0.0505),(2004.56,0.0490),(2004.64,0.0480),
       (2004.72,0.0475),(2004.80,0.0470),(2004.88,0.0470),(2004.96,0.0465),(2005.04,0.0470),(2005.12,0.0480),
       (2005.20,0.0500),(2005.26,0.0505),(2005.32,0.0480),(2005.40,0.0460),(2005.48,0.0470),(2005.56,0.0475),
       (2005.64,0.0478),(2005.72,0.0485),(2005.80,0.0480),(2005.88,0.0490),(2005.96,0.0495),(2006.04,0.0500),
       (2006.12,0.0505),(2006.20,0.0520),(2006.28,0.0540),(2006.36,0.0555),(2006.44,0.0570),(2006.50,0.0565),
       (2006.58,0.0550),(2006.66,0.0530),(2006.74,0.0520),(2006.82,0.0510),(2006.90,0.0520),(2006.98,0.0525),
       (2007.06,0.0530),(2007.14,0.0520),(2007.22,0.0515),(2007.30,0.0525),(2007.38,0.0535),(2007.46,0.0585),
       (2007.52,0.0565),(2007.60,0.0540),(2007.68,0.0525),(2007.76,0.0505),(2007.84,0.0490),(2007.92,0.0478),
       (2008.00,0.0465),(2008.08,0.0460),(2008.16,0.0465),(2008.24,0.0470),(2008.32,0.0460),(2008.40,0.0475),
       (2008.48,0.0488),(2008.56,0.0470),(2008.64,0.0465),(2008.72,0.0455),(2008.78,0.0430),(2008.84,0.0360),
       (2008.90,0.0280),(2008.96,0.0265),(2009.02,0.0280),(2009.08,0.0300),(2009.14,0.0310),(2009.20,0.0300),
       (2009.28,0.0320),(2009.37,0.0345)]

# QC / QE model series lie on top of each other in the picture
R_QC, R_QE = R, R
MU_QC, MU_QE = MU, MU
V_QC, V_QE = V, V

# ---------------- styling ----------------
W, H = 462, 347
RED = "#c80000"
GREEN = "#4f6228"
SANS = "Liberation Sans"
SERIF = "Liberation Serif"
MINUS = "\u2212"

X_SCALE = alt.Scale(domain=X_RANGE, nice=False, zero=False)


def x_axis(pad):
    return alt.Axis(values=LABEL_YEARS, labelExpr="substring(format(datum.value, 'd'), 2, 4)",
                    title=None, grid=False, domainColor="black", tickColor="#808080", tickSize=4,
                    labelPadding=pad, labelFont=SANS, labelFontSize=12, labelColor="black",
                    labelOverlap=False, labelFlush=False)


def y_axis(ticks):
    return alt.Axis(values=ticks, labelExpr="replace(format(datum.value, '.2f'), '" + MINUS + "', '-')",
                    title=None, grid=False, domainColor="black", tickColor="black", tickSize=4,
                    labelPadding=7, labelFont=SANS, labelFontSize=12, labelColor="black",
                    labelOverlap=False, labelFlush=False, minExtent=43, maxExtent=43)


def line_style(kind):
    if kind == "solid":
        return dict(color=RED, strokeWidth=1.6)
    return dict(color=GREEN, strokeWidth=2, strokeDash=[1.5, 1.5])


def legend_entry(label, kind, lx, ly):
    d = alt.Data(values=[{"k": 0}])
    seg = alt.Chart(d).mark_rule(**line_style(kind)).encode(
        x=alt.value(lx), x2=alt.value(lx + 19), y=alt.value(ly))
    txt = alt.Chart(d).mark_text(text=label, align="left", baseline="middle", font=SANS,
                                 fontSize=12, color="black").encode(x=alt.value(lx + 20), y=alt.value(ly))
    return [seg, txt]


def note(label, lx, ly):
    d = alt.Data(values=[{"k": 0}])
    return alt.Chart(d).mark_text(text=label, align="left", baseline="middle", font=SANS,
                                  fontSize=12, color="black").encode(x=alt.value(lx), y=alt.value(ly))


def panel(title, series, ydom, yticks, legend, corr=None, zero_line=False, label_pad=9):
    ysc = alt.Scale(domain=ydom, nice=False, zero=False)
    yax = y_axis(yticks)
    X = alt.X("t:Q", scale=X_SCALE, axis=x_axis(label_pad))
    Y = alt.Y("v:Q", scale=ysc, axis=yax)
    layers = []
    if zero_line:
        layers.append(alt.Chart(pd.DataFrame({"v": [0.0]})).mark_rule(color="black", strokeWidth=1)
                      .encode(y=Y))
        layers.append(alt.Chart(pd.DataFrame({"t": LABEL_YEARS, "v": [0.0] * len(LABEL_YEARS)}))
                      .mark_tick(orient="vertical", size=7, thickness=1, color="#808080")
                      .encode(x=X, y=Y))
    for pairs, kind in series:
        df = pd.DataFrame(pairs, columns=["t", "v"])
        layers.append(alt.Chart(df).mark_line(clip=True, **line_style(kind)).encode(x=X, y=Y))
    layers.append(alt.Chart(pd.DataFrame({"t": BREAK_YEAR}))
                  .mark_rule(color="black", strokeWidth=4.5, strokeDash=[0.01, 17.32], strokeCap="round")
                  .encode(x=X,
                          y=alt.Y(datum=ydom[1], type="quantitative", scale=ysc, axis=yax),
                          y2=alt.Y2(datum=ydom[0])))
    for label, kind, lx, ly in legend:
        layers += legend_entry(label, kind, lx, ly)
    if corr:
        layers.append(note(*corr))
    return alt.layer(*layers).properties(
        width=W, height=H,
        title=alt.TitleParams(text=title, font=SERIF, fontSize=29, fontWeight="normal",
                              anchor="middle", frame="bounds", offset=26, color="black"))


pa = panel("(a) A\u2081(3) model: r\u209c (with y\u209c,\u2080.\u2085)",
           [(R, "solid"), (Y05, "dot")], [0.0, 0.10], RATE_TICKS,
           [("r", "solid", 384, 35), ("y_0.5", "dot", 384, 76)], corr=("correlation = 0.98", 28, 35))
pb = panel("(b) QC and QE models: r\u209c",
           [(R_QC, "solid"), (R_QE, "dot")], [0.0, 0.10], RATE_TICKS,
           [("r_QC", "solid", 52, 37), ("r_QE", "dot", 52, 79)])
pc = panel("(c) A\u2081(3) model: \u03bc\u209c (with cur\u209c)",
           [(MU, "solid"), (CUR, "dot")], [-0.08, 0.06], MU_TICKS,
           [("mu", "solid", 37, 272), ("cur", "dot", 37, 309)], corr=("correlation = 0.70", 136, 309),
           zero_line=True)
pd_ = panel("(d) QC and QE models: \u03bc\u209c",
            [(MU_QC, "solid"), (MU_QE, "dot")], [-0.08, 0.06], MU_TICKS,
            [("mu_QC", "solid", 55, 271), ("mu_QE", "dot", 55, 311)], zero_line=True)
pe = panel("(e) A\u2081(3) model: V\u209c (with y\u209c,\u2081\u2080)",
           [(V, "solid"), (Y10, "dot")], [0.0, 0.10], RATE_TICKS,
           [("V", "solid", 385, 35), ("y_10", "dot", 385, 76)], corr=("correlation = 0.96", 29, 314),
           label_pad=5)
pf = panel("(f) QC and QE models: V\u209c",
           [(V_QC, "solid"), (V_QE, "dot")], [0.0, 0.10], RATE_TICKS,
           [("V_QC", "solid", 57, 266), ("V_QE", "dot", 57, 307)], label_pad=5)

chart = alt.vconcat(
    alt.hconcat(pa, pb, spacing=107),
    alt.hconcat(pc, pd_, spacing=107),
    alt.hconcat(pe, pf, spacing=107),
    spacing=68,
).properties(padding={"top": 2, "left": 0, "right": 0, "bottom": 0}).configure_view(
    stroke="#808080", strokeWidth=1)

chart.save("out.html", embed_options={"renderer": "svg", "actions": False})
